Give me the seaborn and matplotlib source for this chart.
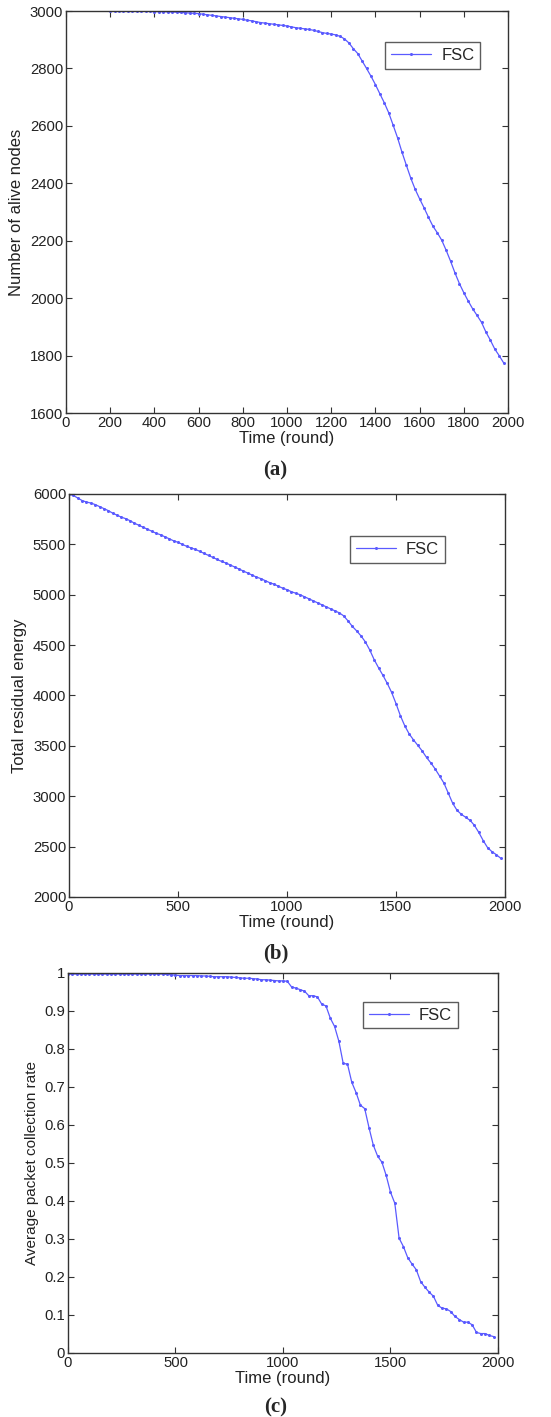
import matplotlib
matplotlib.use("Agg")
import matplotlib.pyplot as plt
import numpy as np
import pandas as pd
import seaborn as sns

# ---- data (one point every 20 rounds) ----
rounds_a = list(range(200, 2000, 20))
alive_nodes = [
    3000, 3000, 3000, 3000, 3000, 3000, 3000, 3000, 3000, 2999,
    2998, 2998, 2998, 2997, 2997, 2996, 2995, 2994, 2993, 2992,
    2991, 2989, 2987, 2985, 2983, 2981, 2979, 2977, 2975, 2973,
    2971, 2968, 2966, 2963, 2960, 2958, 2956, 2954, 2952, 2950,
    2948, 2945, 2942, 2940, 2938, 2936, 2933, 2929, 2925, 2922,
    2920, 2917, 2912, 2903, 2889, 2869, 2852, 2826, 2800, 2773,
    2744, 2712, 2681, 2646, 2603, 2559, 2509, 2463, 2418, 2379,
    2346, 2315, 2282, 2251, 2228, 2202, 2167, 2129, 2088, 2051,
    2019, 1990, 1963, 1940, 1916, 1882, 1854, 1823, 1800, 1775,
]

rounds_b = list(range(0, 2000, 20))
residual_energy = [
    6000, 5985, 5960, 5935, 5920, 5910, 5895, 5875, 5855, 5835,
    5810, 5790, 5770, 5755, 5735, 5710, 5690, 5670, 5650, 5630,
    5610, 5595, 5575, 5555, 5535, 5520, 5500, 5480, 5465, 5450,
    5430, 5410, 5390, 5370, 5350, 5330, 5315, 5295, 5275, 5255,
    5235, 5215, 5195, 5175, 5160, 5140, 5120, 5105, 5085, 5065,
    5050, 5030, 5015, 5000, 4980, 4960, 4940, 4920, 4900, 4880,
    4860, 4840, 4820, 4790, 4740, 4685, 4640, 4590, 4530, 4450,
    4355, 4275, 4200, 4120, 4030, 3920, 3800, 3700, 3620, 3560,
    3505, 3450, 3385, 3330, 3270, 3200, 3130, 3030, 2930, 2860,
    2820, 2790, 2760, 2710, 2640, 2560, 2490, 2450, 2420, 2385,
]

rounds_c = list(range(0, 2000, 20))
collection_rate = [
    0.997, 0.997, 0.997, 0.997, 0.997, 0.997, 0.997, 0.997, 0.997, 0.997,
    0.997, 0.997, 0.997, 0.997, 0.997, 0.997, 0.997, 0.997, 0.997, 0.997,
    0.997, 0.997, 0.997, 0.996, 0.995, 0.994, 0.993, 0.993, 0.993, 0.993,
    0.993, 0.992, 0.992, 0.991, 0.990, 0.990, 0.990, 0.990, 0.989, 0.988,
    0.987, 0.986, 0.986, 0.985, 0.984, 0.982, 0.982, 0.981, 0.980, 0.979,
    0.979, 0.978, 0.963, 0.960, 0.956, 0.952, 0.940, 0.940, 0.937, 0.918,
    0.913, 0.881, 0.859, 0.820, 0.762, 0.760, 0.712, 0.685, 0.652, 0.643,
    0.593, 0.547, 0.518, 0.502, 0.467, 0.423, 0.394, 0.302, 0.280, 0.251,
    0.234, 0.219, 0.188, 0.173, 0.160, 0.149, 0.125, 0.118, 0.116, 0.109,
    0.096, 0.088, 0.081, 0.081, 0.074, 0.054, 0.051, 0.051, 0.046, 0.043,
]

sns.set_style("ticks")
plt.rcParams["font.family"] = ["Liberation Sans", "DejaVu Sans"]

LINE_COLOR = "#5a5aff"
EDGE = "#333333"

fig = plt.figure(figsize=(5.51, 14.17), dpi=100)


def draw_panel(rect, x, y, ylabel, ylabel_size, xlim, ylim, xticks, yticks,
               ytick_labels, legend_anchor):
    ax = fig.add_axes(rect)
    df = pd.DataFrame({"round": x, "value": y, "method": "FSC"})
    sns.lineplot(
        data=df, x="round", y="value", hue="method", palette=[LINE_COLOR],
        marker="o", markersize=2.2, markeredgewidth=0, linewidth=0.9, ax=ax,
    )
    ax.set_xlim(xlim)
    ax.set_ylim(ylim)
    ax.set_xticks(xticks)
    ax.set_yticks(yticks)
    ax.set_yticklabels(ytick_labels)
    ax.tick_params(direction="in", top=True, right=True, length=4,
                   width=0.8, labelsize=10.7, colors=EDGE,
                   labelcolor="#222222", pad=2)
    for s in ax.spines.values():
        s.set_color(EDGE)
        s.set_linewidth(1.0)
    ax.set_xlabel("Time (round)", fontsize=12, labelpad=1, color="#222222")
    ax.set_ylabel(ylabel, fontsize=ylabel_size, labelpad=4, color="#222222")
    leg = ax.legend(loc="upper right", bbox_to_anchor=legend_anchor,
                    fancybox=False, frameon=True, fontsize=12,
                    handlelength=2.4, borderpad=0.35, handletextpad=0.6,
                    borderaxespad=0)
    leg.get_frame().set_edgecolor(EDGE)
    leg.get_frame().set_linewidth(1.0)
    return ax


draw_panel(
    [0.1198, 0.7085, 0.8022, 0.2837], rounds_a, alive_nodes,
    "Number of alive nodes", 12, (0, 2000), (1600, 3000),
    list(range(0, 2001, 200)), list(range(1600, 3001, 200)),
    [str(v) for v in range(1600, 3001, 200)], (0.937, 0.923),
)
fig.text(0.5, 1 - 470 / 1417, "(a)", ha="center", va="center",
         fontsize=15, fontweight="bold", family="Liberation Serif")

draw_panel(
    [0.1252, 0.367, 0.7913, 0.2844], rounds_b, residual_energy,
    "Total residual energy", 12, (0, 2000), (2000, 6000),
    list(range(0, 2001, 500)), list(range(2000, 6001, 500)),
    [str(v) for v in range(2000, 6001, 500)], (0.862, 0.896),
)
fig.text(0.5, 1 - 953 / 1417, "(b)", ha="center", va="center",
         fontsize=15, fontweight="bold", family="Liberation Serif")

yt_c = [round(v * 0.1, 1) for v in range(0, 11)]
yl_c = ["0"] + [f"{v:.1f}" for v in yt_c[1:-1]] + ["1"]
draw_panel(
    [0.1234, 0.0452, 0.7804, 0.2682], rounds_c, collection_rate,
    "Average packet collection rate", 11, (0, 2000), (0, 1),
    list(range(0, 2001, 500)), yt_c, yl_c, (0.907, 0.924),
)
fig.text(0.5, 1 - 1407 / 1417, "(c)", ha="center", va="center",
         fontsize=15, fontweight="bold", family="Liberation Serif")

fig.savefig("out.png", dpi=100)
